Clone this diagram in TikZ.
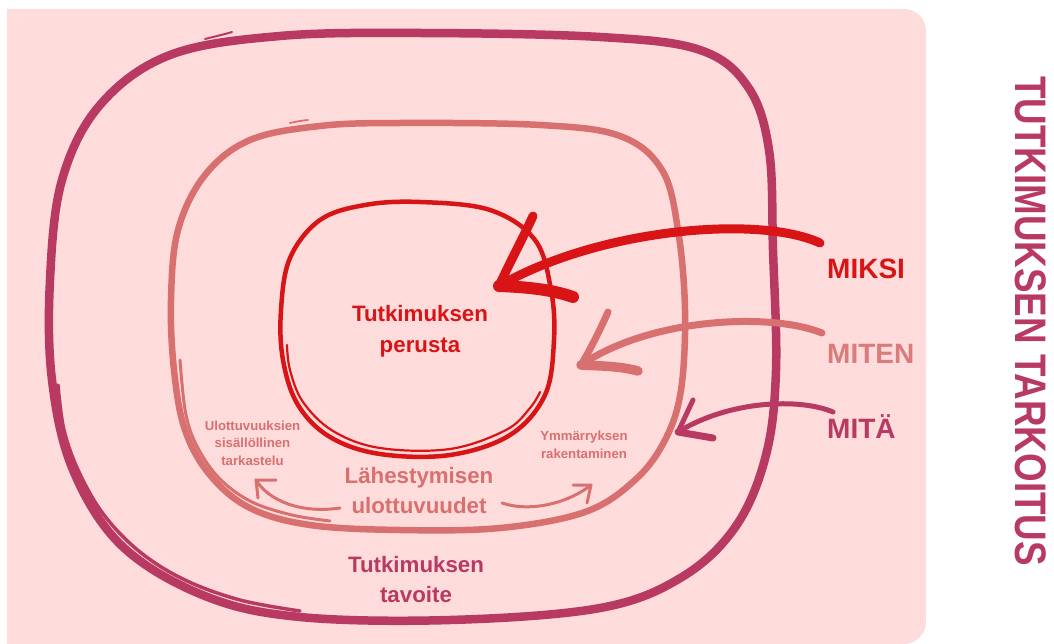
\documentclass[tikz,border=0pt]{standalone}
\usepackage{fontspec}
\setmainfont{Liberation Sans}
\definecolor{bgpink}{HTML}{FDDCDB}
\definecolor{plum}{HTML}{B83A62}
\definecolor{rose}{HTML}{D97070}
\definecolor{scarlet}{HTML}{D81416}
\tikzset{
  ring/.style={line cap=round, line join=round},
  brush/.style={line cap=round, line join=round},
  lbl/.style={font=\bfseries\fontsize{22.3}{26}\selectfont, anchor=base, inner sep=0pt},
  small/.style={font=\bfseries\fontsize{13.2}{16}\selectfont, anchor=base, inner sep=0pt, text=rose},
  key/.style={font=\bfseries\fontsize{28}{32}\selectfont, anchor=base west, inner sep=0pt},
}
\begin{document}
\begin{tikzpicture}[x=1pt, y=-1pt]
\useasboundingbox (0,0) rectangle (1054,644);

% panel
\fill[bgpink] (7,644) -- (7,9) [rounded corners=22pt] -- (926,9) -- (926,644) [sharp corners] -- cycle;

% outer ring: research purpose
\draw[ring, plum, line width=8.5] plot[smooth cycle, tension=0.6] coordinates {
  (420,33) (600,37) (700,50) (748,87) (769,150) (773,250) (776,370)
  (766,455) (736,526) (682,577) (600,608) (450,620) (300,617) (205,596)
  (122,546) (73,470) (52,380) (50,280) (62,180) (100,105) (170,55) (280,36)};
\draw[ring, plum, line width=3.5] plot[smooth, tension=0.6] coordinates {
  (58,385) (64,430) (79,472) (104,515) (140,552) (185,580) (240,600) (300,611)};
\draw[ring, plum, line width=2] plot[smooth, tension=0.6] coordinates {
  (205,39) (225,34) (232,32)};

% middle ring
\draw[ring, rose, line width=6.5] plot[smooth cycle, tension=0.6] coordinates {
  (400,123) (540,125) (620,136) (662,170) (678,230) (685,310) (681,390)
  (665,440) (635,480) (585,512) (500,528) (400,530) (310,525) (250,508)
  (210,475) (185,430) (174,370) (171,300) (178,230) (205,175) (250,140)
  (320,126)};
\draw[ring, rose, line width=3] plot[smooth, tension=0.6] coordinates {
  (180,360) (186,415) (199,450) (221,480) (252,502) (292,515) (330,521)};
\draw[ring, rose, line width=1.8] plot[smooth, tension=0.6] coordinates {
  (290,123) (300,121) (308,120)};

% inner ring
\draw[ring, scarlet, line width=4.5] plot[smooth cycle, tension=0.6] coordinates {
  (420,202) (490,210) (535,240) (551,290) (554,340) (545,395) (510,435)
  (450,455) (380,454) (330,437) (298,405) (283,360) (281,310) (290,258)
  (320,220) (365,205)};
\draw[ring, scarlet, line width=2.2] plot[smooth, tension=0.6] coordinates {
  (287,345) (290,370) (303,402) (333,431) (380,448) (450,449) (506,430)
  (530,408) (540,392)};

% centre texts
\node[lbl, text=scarlet] (base1) at (420,321) {Tutkimuksen};
\node[lbl, text=scarlet] (base2) at (420,352) {perusta};
\node[lbl, text=rose] (dim1) at (419,483) {Lähestymisen};
\node[lbl, text=rose] (dim2) at (419,513) {ulottuvuudet};
\node[lbl, text=plum] (goal1) at (416,572) {Tutkimuksen};
\node[lbl, text=plum] (goal2) at (416,602) {tavoite};

\node[small] (ul1) at (252.5,430) {Ulottuvuuksien};
\node[small] (ul2) at (252.5,447.5) {sisällöllinen};
\node[small] (ul3) at (252.5,465) {tarkastelu};
\node[small] (ym1) at (584,440) {Ymmärryksen};
\node[small] (ym2) at (584,458) {rakentaminen};

% question words
\node[key, text=scarlet] (miksi) at (827,278) {MIKSI};
\node[key, text=rose!92!white] (miten) at (827,363) {MITEN};
\node[key, text=plum] (mita) at (827,438) {MITÄ};

% side title
\node[font=\bfseries\fontsize{36.8}{40}\selectfont, text=plum, rotate=-90, inner sep=0pt] (title) at (1031,321)
  {\scalebox{1}[1.2]{TUTKIMUKSEN TARKOITUS}};

% arrow MIKSI
\coordinate (miksiS) at (820,243);
\coordinate (miksiT) at (499,286);
\draw[brush, scarlet, line width=9] (miksiS) .. controls (760,215) and (600,228) .. (miksiT);
\draw[brush, scarlet, line width=9] (533,216) .. controls (522,240) and (510,262) .. (miksiT);
\draw[brush, scarlet, line width=12] (miksiT) .. controls (525,287) and (550,289) .. (573,297);

% arrow MITEN
\coordinate (mitenS) at (822,333);
\coordinate (mitenT) at (581,365);
\draw[brush, rose, line width=7] (mitenS) .. controls (770,312) and (650,318) .. (mitenT);
\draw[brush, rose, line width=7] (608,312) .. controls (600,330) and (590,350) .. (mitenT);
\draw[brush, rose, line width=9.5] (mitenT) .. controls (600,366) and (620,366) .. (638,371);

% arrow MITÄ
\coordinate (mitaS) at (833,412);
\coordinate (mitaT) at (678,432);
\draw[brush, plum, line width=5] (mitaS) .. controls (800,398) and (730,400) .. (mitaT);
\draw[brush, plum, line width=5] (693,400) -- (mitaT);
\draw[brush, plum, line width=7] (mitaT) -- (713,438);

% small arrows
\coordinate (lS) at (340,508);
\coordinate (lT) at (256,480);
\draw[brush, rose, line width=3] (lS) .. controls (300,514) and (268,500) .. (lT);
\draw[brush, rose, line width=3] (276,480) -- (lT) -- (258,498);
\coordinate (rS) at (502,503);
\coordinate (rT) at (591,485);
\draw[brush, rose, line width=3] (rS) .. controls (532,513) and (570,502) .. (rT);
\draw[brush, rose, line width=3] (573,485) -- (rT) -- (587,503);
\end{tikzpicture}
\end{document}
